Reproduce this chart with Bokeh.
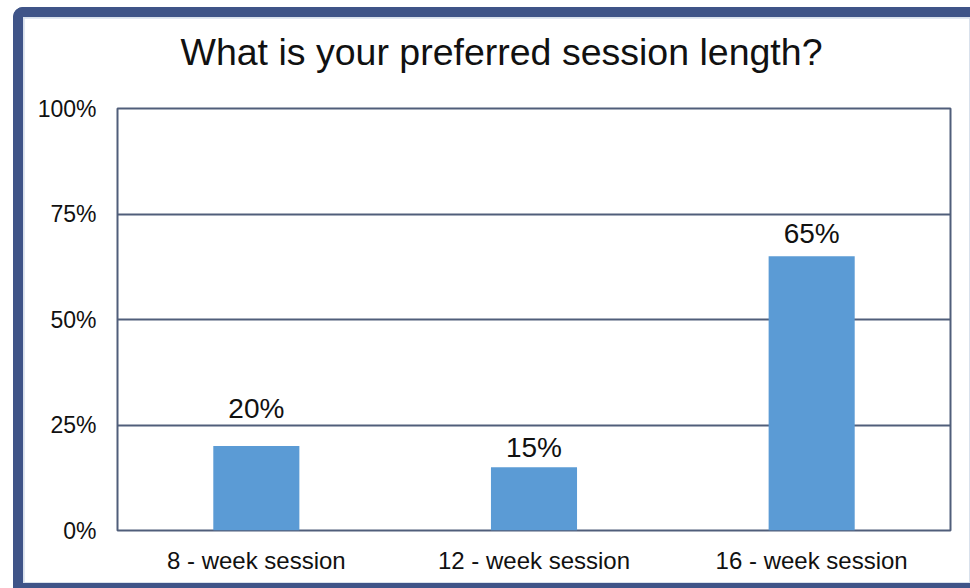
from bokeh.plotting import figure
from bokeh.models import ColumnDataSource, Range1d, FixedTicker, Title
from bokeh.layouts import column
from bokeh.core.properties import value
from bokeh.embed import file_html
from bokeh.resources import INLINE

# Survey results
title_text = "What is your preferred session length?"
sessions = ["8 - week session", "12 - week session", "16 - week session"]
shares = [20, 15, 65]
share_labels = ["20%", "15%", "65%"]
y_ticks = [0, 25, 50, 75, 100]
y_tick_labels = ["0%", "25%", "50%", "75%", "100%"]

# Styling
FONT = "Liberation Sans"
BAR_COLOR = "#5B9BD5"
LINE_COLOR = "#505E7A"
FRAME_COLOR = "#3F5488"
label_lift = [38, 20, 23]  # pixel gap between bar top and its value label

source = ColumnDataSource(data=dict(
    session=sessions,
    share=shares,
    label=share_labels,
    lift=[-v for v in label_lift],
))

p = figure(
    x_range=sessions,
    y_range=Range1d(0, 100),
    width=945, height=564,
    output_backend="svg",
    toolbar_location=None,
    min_border_left=93, min_border_right=19,
    min_border_top=90, min_border_bottom=52,
    background_fill_color="white",
    border_fill_color="white",
)

p.vbar(x="session", top="share", width=0.31, source=source,
       fill_color=BAR_COLOR, line_color=None)

p.text(x="session", y="share", text="label", source=source,
       y_offset="lift", text_align="center", text_baseline="alphabetic",
       text_font=value(FONT), text_font_size="28px", text_color="#111111")

# Blank spacer panel between the frame and the title, lifting the title up
spacer = Title(text=" ", text_font_size="2px", standoff=32)
p.add_layout(spacer, "above")

# Title
p.title.text = title_text
p.title.align = "left"
p.title.offset = 63
p.title.standoff = 0
p.title.text_font = FONT
p.title.text_font_size = "37.5px"
p.title.text_font_style = "normal"
p.title.text_color = "#111111"

# Axes
p.yaxis.ticker = FixedTicker(ticks=y_ticks)
p.yaxis.major_label_overrides = {t: s for t, s in zip(y_ticks, y_tick_labels)}
for ax in (p.xaxis, p.yaxis):
    ax.axis_line_color = None
    ax.major_tick_line_color = None
    ax.minor_tick_line_color = None
    ax.major_label_text_font = FONT
    ax.major_label_text_color = "#111111"
p.yaxis.major_label_text_font_size = "23px"
p.xaxis.major_label_text_font_size = "24px"
p.yaxis.major_label_standoff = 15
p.xaxis.major_label_standoff = 10

# Grid and plot frame
p.xgrid.grid_line_color = None
p.ygrid.ticker = FixedTicker(ticks=[25, 50, 75])
p.ygrid.grid_line_color = LINE_COLOR
p.ygrid.grid_line_width = 2
p.outline_line_color = LINE_COLOR
p.outline_line_width = 2
p.outline_line_alpha = 1.0

layout = column(p, styles={
    "margin-left": "13px",
    "margin-top": "7px",
    "border-left": f"10px solid {FRAME_COLOR}",
    "border-top": f"10px solid {FRAME_COLOR}",
    "border-bottom": f"5px solid {FRAME_COLOR}",
    "border-top-left-radius": "10px",
    "padding": "1px",
    "background-color": "#D9E1EC",
})

open("out.html", "w").write(file_html(layout, INLINE))
